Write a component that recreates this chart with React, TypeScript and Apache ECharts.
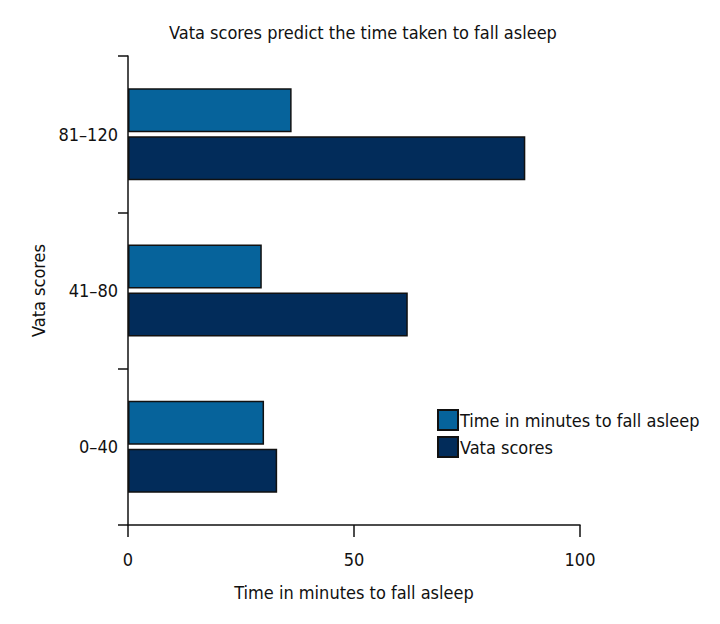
import React, { useEffect, useRef } from "react";
import * as echarts from "echarts";

const categories = ["0–40", "41–80", "81–120"];
const timeValues = [30.1, 29.6, 36.2];
const vataValues = [33.0, 61.9, 87.9];
const xTicks = [0, 50, 100];

const FONT = "'DejaVu Sans Condensed', 'Liberation Sans Narrow', sans-serif";

export default function App() {
  const ref = useRef<HTMLDivElement>(null);
  useEffect(() => {
    if (!ref.current) return;
    const chart = echarts.init(ref.current, undefined, { renderer: "svg" });
    chart.setOption({
      animation: false,
      backgroundColor: "#ffffff",
      textStyle: { fontFamily: FONT, color: "#111" },
      title: {
        text: "Vata scores predict the time taken to fall asleep",
        left: 358,
        textAlign: "center",
        top: 18,
        textStyle: { fontFamily: FONT, fontSize: 18, fontWeight: "normal", color: "#111" },
      },
      legend: {
        left: 432,
        top: 404,
        orient: "vertical",
        itemWidth: 20,
        itemHeight: 20,
        itemGap: 5,
        icon: "rect",
        textStyle: { fontFamily: FONT, fontSize: 18, color: "#111", padding: [0, 0, 0, -3] },
        data: ["Time in minutes to fall asleep", "Vata scores"],
      },
      grid: { left: 128, right: 140, top: 56, bottom: 99, containLabel: false },
      xAxis: {
        type: "value",
        min: xTicks[0],
        max: xTicks[xTicks.length - 1],
        interval: 50,
        name: "Time in minutes to fall asleep",
        nameLocation: "middle",
        nameGap: 58,
        nameTextStyle: { fontFamily: FONT, fontSize: 18, color: "#111" },
        axisLine: { show: true, lineStyle: { color: "#111", width: 1.5 } },
        axisTick: { show: true, length: 12, lineStyle: { color: "#111", width: 1.5 } },
        axisLabel: { fontFamily: FONT, fontSize: 18, color: "#111", margin: 25 },
        splitLine: { show: false },
      },
      yAxis: {
        type: "category",
        data: categories,
        name: "Vata scores",
        nameLocation: "middle",
        nameGap: 80,
        nameRotate: 90,
        nameTextStyle: { fontFamily: FONT, fontSize: 18, color: "#111" },
        axisLine: { show: true, lineStyle: { color: "#111", width: 1.5 } },
        axisTick: { show: true, length: 10, alignWithLabel: false, lineStyle: { color: "#111", width: 1.5 } },
        axisLabel: { fontFamily: FONT, fontSize: 18, color: "#111", margin: 10 },
      },
      series: [
        {
          name: "Time in minutes to fall asleep",
          type: "bar",
          data: timeValues,
          barWidth: 44,
          barGap: "9%",
          itemStyle: { color: "#06639b", borderColor: "#111", borderWidth: 1.5 },
        },
        {
          name: "Vata scores",
          type: "bar",
          data: vataValues,
          barWidth: 44,
          barGap: "9%",
          itemStyle: { color: "#022c5a", borderColor: "#111", borderWidth: 1.5 },
        },
      ],
    });
    return () => chart.dispose();
  }, []);
  return <div ref={ref} style={{ width: 720, height: 624, margin: -8 }} />;
}
